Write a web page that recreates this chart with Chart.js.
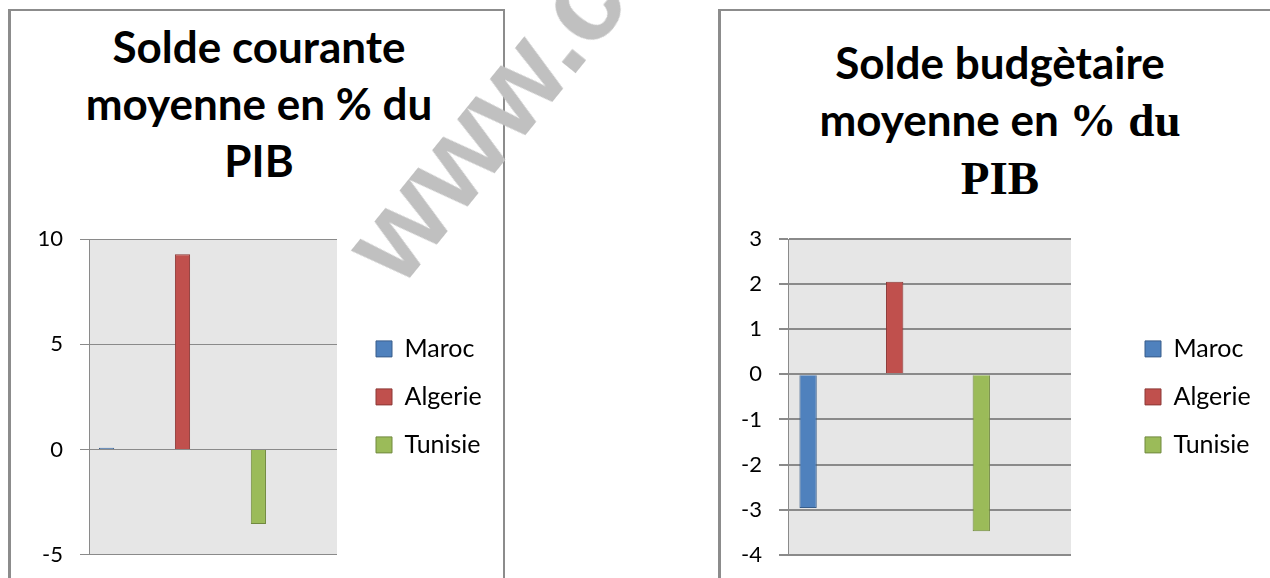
<!DOCTYPE html>
<html lang="fr">
<head>
    <meta charset="utf-8">
    <title>Solde courante et budgétaire</title>
    <script src="https://cdn.jsdelivr.net/npm/chart.js"></script>
    <style>
        /* page is a fixed 1270x578 picture */
        body { margin: 0; width: 1270px; height: 578px; overflow: hidden; background: #fff; position: relative; }
        .frame { position: absolute; border: 0 solid #8c8c8c; box-sizing: border-box; }
        #frameLeft { left: 8px; top: 9px; width: 497px; height: 620px; border-top-width: 2px; border-left-width: 3px; border-right-width: 2px; }
        #frameRight { left: 718px; top: 9px; width: 600px; height: 620px; border-top-width: 2px; border-left-width: 3px; }
        .title { position: absolute; text-align: center; font-family: Lato, sans-serif; font-weight: bold; font-size: 44px; line-height: 57px; color: #000; white-space: nowrap; }
        .serif { font-family: "Liberation Serif", serif; font-size: 47px; }
        #titleLeft { left: 10px; top: 18px; width: 498px; }
        #titleRight { left: 722px; top: 34px; width: 556px; }
        .box { position: absolute; top: 200px; height: 385px; }
        .box canvas { display: block; }
        #boxLeft { left: 10px; width: 490px; }
        #boxRight { left: 722px; width: 548px; }
        #watermark { position: absolute; left: 400px; top: 190px; font-family: "Liberation Sans", Arial, sans-serif; font-weight: bold; font-size: 118px; line-height: 1; color: #c0c0c0; transform-origin: 0 100px; transform: rotate(-51deg); white-space: nowrap; z-index: 5; }
    </style>
</head>
<body>
    <div class="frame" id="frameLeft"></div>
    <div class="frame" id="frameRight"></div>

    <div class="title" id="titleLeft">Solde courante<br>moyenne en % du<br>PIB</div>
    <div class="title" id="titleRight">Solde budgètaire<br>moyenne en <span class="serif">% du</span><br><span class="serif">PIB</span></div>

    <!-- canvases run a little past the bottom edge, like the cut-off original -->
    <div class="box" id="boxLeft"><canvas id="chartLeft" width="490" height="385"></canvas></div>
    <div class="box" id="boxRight"><canvas id="chartRight" width="548" height="385"></canvas></div>

    <div id="watermark">www.c</div>

<script>
    // data
    const countries = ['Maroc', 'Algerie', 'Tunisie'];
    const soldeCourante = [0.08, 9.27, -3.54];       // % du PIB
    const soldeBudgetaire = [-2.96, 2.05, -3.48];    // % du PIB
    const courTicks = [-5, 0, 5, 10];
    const budTicks = [-4, -3, -2, -1, 0, 1, 2, 3];

    // excel 2007 default colours
    const fills = ['#4f81bd', '#c0504d', '#9bbb59'];
    const edges = ['#385d8a', '#8c3836', '#71893f'];

    Chart.defaults.font.family = 'Lato';
    Chart.defaults.color = '#000';

    // grey plot area like excel
    const plotBg = {
        id: 'plotBg',
        beforeDraw(chart) {
            const a = chart.chartArea;
            const ctx = chart.ctx;
            ctx.save();
            ctx.fillStyle = '#e6e6e6';
            ctx.fillRect(a.left, a.top, a.right - a.left, a.bottom - a.top);
            ctx.restore();
        }
    };

    // push the legend away from the plot (excel leaves a gap there)
    // and let it use the rest of the canvas so the labels are not clipped
    const legendGap = {
        id: 'legendGap',
        afterLayout(chart, args, opts) {
            const lg = chart.legend;
            const a = chart.chartArea;
            lg.left = a.right + opts.gap - lg.options.labels.padding;
            lg.right = chart.width;
            lg.width = lg.right - lg.left;
            lg.top = a.top;
            lg.bottom = a.bottom;
            lg.height = a.bottom - a.top;
        }
    };

    function makeChart(id, values, ticks, axisWidth, gap, padRight, gridWidth) {
        const datasets = countries.map((name, i) => ({
            label: name,
            data: [{ x: 0, y: values[i] }],
            backgroundColor: fills[i],
            borderColor: edges[i],
            borderWidth: 1,
            categoryPercentage: 0.918,
            barPercentage: 0.2
        }));
        return new Chart(document.getElementById(id), {
            type: 'bar',
            data: { datasets: datasets },
            plugins: [plotBg, legendGap],
            options: {
                responsive: false,
                animation: false,
                layout: { padding: { top: 39, bottom: 17, left: 0, right: padRight } },
                scales: {
                    x: {
                        type: 'linear',
                        display: false,
                        min: -0.377,
                        max: 0.623,
                        afterBuildTicks: (s) => { s.ticks = []; }   // one group only, use full width
                    },
                    y: {
                        min: ticks[0],
                        max: ticks[ticks.length - 1],
                        afterBuildTicks: (s) => { s.ticks = ticks.map(v => ({ value: v })); },
                        afterFit: (s) => { s.width = axisWidth; },
                        grid: { color: '#8a8a8a', lineWidth: gridWidth, tickLength: 9 },
                        border: { display: true, color: '#8a8a8a', width: 1 },
                        ticks: { font: { size: 22 }, color: '#000', padding: 17 }
                    }
                },
                plugins: {
                    legend: {
                        position: 'right',
                        maxWidth: 100,   // fixed reserve, real spot set by legendGap
                        labels: { boxWidth: 16, boxHeight: 16, padding: 23, font: { size: 25 }, color: '#000' }
                    },
                    legendGap: { gap: gap },
                    tooltip: { enabled: false }
                }
            }
        });
    }

    makeChart('chartLeft', soldeCourante, courTicks, 79, 39, 63, 1);
    makeChart('chartRight', soldeBudgetaire, budTicks, 66, 74, 99, 2);
</script>
</body>
</html>
